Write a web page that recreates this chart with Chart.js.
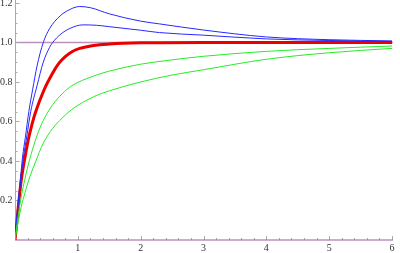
<!DOCTYPE html>
<html>
<head>
<meta charset="utf-8">
<script src="https://cdn.jsdelivr.net/npm/chart.js@4"></script>
<style>
html,body{margin:0;padding:0;background:#fff;}
#wrap{width:400px;height:253px;position:relative;}
</style>
</head>
<body>
<div id="wrap"><canvas id="c" width="400" height="253"></canvas></div>
<script>
// Data: [t, value] pairs
const blueUpperT = [0,0.02,0.05,0.085,0.12,0.165,0.22,0.28,0.35,0.45,0.55,0.72,0.88,1.03,1.2,1.5,2,2.3,3,4,5,6];
const blueUpperV = [0,0.08,0.19,0.305,0.42,0.52,0.65,0.76,0.88,1.0,1.07,1.135,1.168,1.182,1.176,1.145,1.108,1.094,1.063,1.028,1.014,1.008];
const blueLowerT = [0,0.02,0.05,0.09,0.13,0.19,0.25,0.35,0.45,0.55,0.6,0.72,0.88,1.08,1.3,1.5,2,2.3,3,4,5,6];
const blueLowerV = [0,0.075,0.18,0.3,0.41,0.53,0.65,0.78,0.9,0.975,1.0,1.04,1.072,1.089,1.087,1.08,1.062,1.05,1.037,1.018,1.01,1.005];
const redT = [0,0.02,0.05,0.1,0.16,0.22,0.25,0.32,0.46,0.6,0.7,0.8,0.9,1.03,1.25,1.5,2,3,4,5,6];
const redV = [0,0.06,0.16,0.305,0.42,0.52,0.56,0.64,0.758,0.845,0.895,0.928,0.952,0.97,0.985,0.992,0.998,1,1,1,1];
const greenUpperT = [0,0.02,0.05,0.1,0.155,0.21,0.3,0.4,0.5,0.6,0.75,0.9,1.25,1.5,2,2.5,3,4,5,6];
const greenUpperV = [0,0.05,0.12,0.22,0.305,0.38,0.48,0.57,0.635,0.685,0.74,0.78,0.83,0.855,0.89,0.912,0.93,0.955,0.97,0.982];
const greenLowerT = [0,0.02,0.05,0.1,0.16,0.22,0.32,0.45,0.6,0.75,0.9,1.25,1.5,2,2.5,3,4,5,6];
const greenLowerV = [0,0.04,0.09,0.17,0.24,0.305,0.39,0.49,0.565,0.617,0.66,0.725,0.755,0.8,0.835,0.862,0.915,0.948,0.97];
const xTickLabels = [1,2,3,4,5,6];
const yTickLabels = [0.2,0.4,0.6,0.8,1.0,1.2];
const refLine = 1.0;

function pts(ts, vs){ return ts.map((t,i)=>({x:t,y:vs[i]})); }

const axesPlugin = {
  id:'mmaAxes',
  beforeDatasetsDraw(chart){
    const ctx = chart.ctx, xs = chart.scales.x, ys = chart.scales.y, a = chart.chartArea;
    ctx.save();
    ctx.strokeStyle = 'rgba(160,100,160,0.7)';
    ctx.lineWidth = 1.5;
    const yr = ys.getPixelForValue(refLine);
    ctx.beginPath(); ctx.moveTo(a.left, yr); ctx.lineTo(a.right+1, yr); ctx.stroke();
    ctx.strokeStyle = '#aaaaaa';
    ctx.lineWidth = 1;
    const x0 = Math.round(xs.getPixelForValue(0)) + 0.5;
    ctx.beginPath(); ctx.moveTo(x0, a.bottom); ctx.lineTo(x0, a.top); ctx.stroke();
    for (let k=1;k<=24;k++){
      const v = k*0.05;
      if (v > ys.max) break;
      const yp = Math.round(ys.getPixelForValue(v)) + 0.5;
      const major = (k%4===0);
      ctx.beginPath(); ctx.moveTo(x0, yp); ctx.lineTo(x0 + (major?4:2), yp); ctx.stroke();
    }
    const y0 = ys.getPixelForValue(0);
    for (let k=1;k<=30;k++){
      const v = k*0.2;
      const xp = Math.round(xs.getPixelForValue(v)) + 0.5;
      const major = (k%5===0);
      ctx.beginPath(); ctx.moveTo(xp, y0); ctx.lineTo(xp, y0 - (major?4:2)); ctx.stroke();
    }
    ctx.strokeStyle = 'rgba(160,100,160,0.7)';
    ctx.lineWidth = 1.5;
    ctx.beginPath(); ctx.moveTo(a.left, y0); ctx.lineTo(a.right+1, y0); ctx.stroke();
    ctx.fillStyle = '#333';
    ctx.font = '10px "Liberation Serif", serif';
    ctx.textAlign = 'center'; ctx.textBaseline = 'middle';
    xTickLabels.forEach(v=>{ ctx.fillText(String(v), xs.getPixelForValue(v), y0 + 8); });
    ctx.textAlign = 'right';
    yTickLabels.forEach(v=>{ ctx.fillText(v.toFixed(1), x0 - 3, ys.getPixelForValue(v)); });
    ctx.restore();
  }
};

const common = {fill:false, pointRadius:0, cubicInterpolationMode:'monotone', borderCapStyle:'round'};
new Chart(document.getElementById('c'), {
  type:'line',
  data:{ datasets:[
    Object.assign({label:'g2', data:pts(greenLowerT,greenLowerV), borderColor:'rgb(40,235,40)', borderWidth:1}, common),
    Object.assign({label:'g1', data:pts(greenUpperT,greenUpperV), borderColor:'rgb(40,235,40)', borderWidth:1}, common),
    Object.assign({label:'b2', data:pts(blueLowerT,blueLowerV), borderColor:'rgb(40,40,255)', borderWidth:1}, common),
    Object.assign({label:'b1', data:pts(blueUpperT,blueUpperV), borderColor:'rgb(40,40,255)', borderWidth:1}, common),
    Object.assign({label:'r', data:pts(redT,redV), borderColor:'rgb(235,0,0)', borderWidth:3}, common)
  ]},
  options:{
    responsive:false, animation:false, devicePixelRatio:1,
    layout:{padding:{left:15,right:8,top:0,bottom:13}},
    plugins:{legend:{display:false}, tooltip:{enabled:false}},
    scales:{
      x:{type:'linear', min:0, max:6, display:false},
      y:{type:'linear', min:0, max:1.215, display:false}
    },
    elements:{line:{tension:0}}
  },
  plugins:[axesPlugin]
});
</script>
</body>
</html>
